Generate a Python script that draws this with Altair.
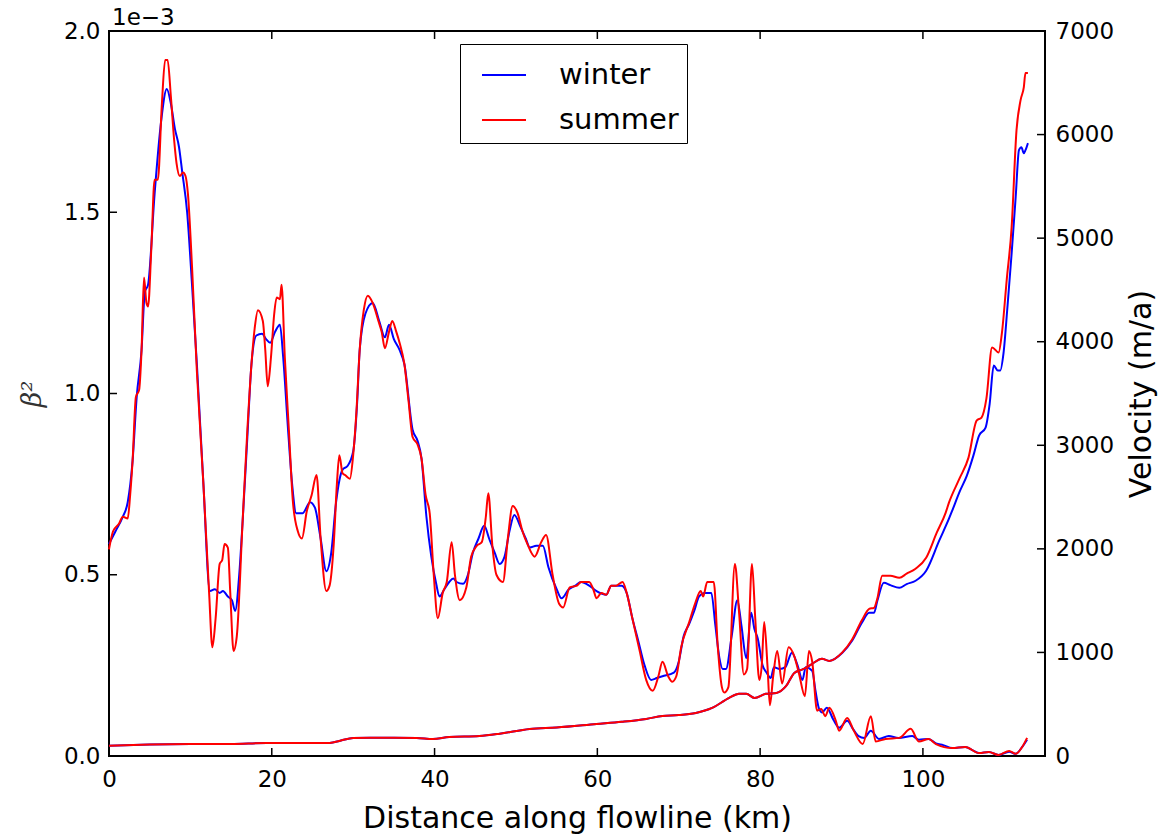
import altair as alt
import pandas as pd

# ---------------- data ----------------
# beta^2 values are given in units of 1e-3
beta_winter_km = [0, 0.8, 1.7, 2.3, 2.9, 3.4, 4.0, 4.4, 4.8, 5.6, 6.4, 7.1, 7.6, 8.1, 8.6, 9.0, 9.6, 10.2, 10.8,
                  11.6, 12.4, 13.0, 13.6, 14.0, 14.6, 15.1, 15.5, 16.0, 16.4, 17.0, 17.5, 18.1, 18.8, 19.3, 19.8,
                  20.4, 21.0, 21.4, 22.0, 22.5, 23.0, 23.8, 24.7, 25.3, 26.0, 26.7, 27.3, 27.9, 28.7, 29.3, 30.0,
                  30.5, 30.8, 31.5, 32.4, 33.2, 33.9, 34.4, 35.0, 35.7, 36.3, 37.3, 37.9, 38.4, 39.0, 39.6, 40.2,
                  40.6, 41.2, 41.8, 42.3, 42.7, 43.5, 44.1, 44.7, 45.4, 46.1, 46.7, 47.4, 48.0, 48.6, 49.2, 49.8,
                  50.6, 51.2, 51.7, 52.5, 53.3, 54.0, 55.0, 55.6, 56.5, 57.3, 58.0, 59.0, 59.9, 61.1, 61.7, 63.0,
                  63.6, 64.3, 65.0, 65.8, 66.6, 67.3, 68.0, 69.4, 70.0, 70.6, 71.3, 71.9, 72.5, 73.2, 74.0, 74.5,
                  75.0, 75.4, 75.8, 76.5, 77.2, 77.7, 78.3, 78.9, 79.3, 79.7, 80.3, 80.8, 81.3, 81.7, 82.4, 83.1,
                  83.9, 84.6, 85.2, 85.6, 86.4, 86.8, 87.2, 87.6, 88.2, 89.0, 89.7, 90.7, 91.4, 92.1, 92.8, 93.6,
                  94.6, 95.8, 97.0, 98.7, 99.5, 100.7, 101.6, 102.5, 103.6, 105.2, 106.2, 106.9, 108.1, 109.3,
                  110.6, 111.4, 112.2, 112.8]
beta_winter = [0.585, 0.62, 0.66, 0.70, 0.815, 0.99, 1.12, 1.28, 1.30, 1.55, 1.75, 1.84, 1.80, 1.73, 1.68, 1.61,
               1.50, 1.30, 1.08, 0.75, 0.455, 0.46, 0.45, 0.455, 0.44, 0.43, 0.40, 0.50, 0.64, 0.88, 1.08, 1.16,
               1.165, 1.15, 1.14, 1.17, 1.19, 1.10, 0.90, 0.75, 0.67, 0.67, 0.70, 0.685, 0.60, 0.51, 0.56, 0.70,
               0.79, 0.80, 0.84, 0.98, 1.12, 1.22, 1.25, 1.20, 1.155, 1.19, 1.15, 1.12, 1.08, 0.90, 0.87, 0.82,
               0.66, 0.55, 0.475, 0.44, 0.46, 0.48, 0.49, 0.48, 0.475, 0.50, 0.56, 0.60, 0.635, 0.60, 0.56, 0.53,
               0.55, 0.62, 0.665, 0.63, 0.60, 0.575, 0.58, 0.58, 0.52, 0.46, 0.435, 0.46, 0.47, 0.48, 0.47, 0.455,
               0.445, 0.47, 0.47, 0.45, 0.38, 0.32, 0.25, 0.21, 0.215, 0.22, 0.23, 0.26, 0.33, 0.365, 0.40, 0.44,
               0.45, 0.45, 0.36, 0.27, 0.24, 0.24, 0.33, 0.43, 0.36, 0.27, 0.395, 0.35, 0.325, 0.25, 0.23, 0.215,
               0.245, 0.24, 0.245, 0.285, 0.25, 0.21, 0.245, 0.235, 0.18, 0.133, 0.12, 0.133, 0.10, 0.078, 0.097,
               0.075, 0.055, 0.05, 0.07, 0.047, 0.055, 0.05, 0.055, 0.045, 0.047, 0.035, 0.03, 0.022, 0.025,
               0.015, 0.008, 0.011, 0.003, 0.012, 0.006, 0.025, 0.045]

beta_summer_km = [0, 0.5, 1.2, 1.7, 2.3, 2.6, 2.9, 3.3, 3.7, 4.0, 4.3, 4.6, 4.8, 5.2, 5.6, 6.0, 6.5, 6.9, 7.2, 7.6,
                  8.0, 8.3, 8.7, 9.1, 9.4, 9.7, 10.2, 10.8, 11.6, 12.3, 12.7, 13.1, 13.6, 13.9, 14.2, 14.6, 14.9,
                  15.3, 15.7, 16.4, 17.0, 17.5, 17.9, 18.3, 18.9, 19.2, 19.5, 19.9, 20.3, 20.6, 21.0, 21.2, 21.6,
                  22.1, 22.6, 23.2, 23.7, 24.3, 24.9, 25.5, 26.0, 26.7, 27.1, 27.6, 28.0, 28.3, 28.7, 29.0, 29.6,
                  30.0, 30.4, 30.8, 31.3, 31.8, 32.4, 33.1, 33.5, 33.9, 34.4, 34.8, 35.3, 35.7, 36.3, 36.8, 37.3,
                  37.9, 38.4, 38.9, 39.4, 39.9, 40.4, 41.0, 41.5, 42.1, 42.5, 43.1, 43.9, 44.5, 45.2, 45.8, 46.3,
                  46.6, 47.1, 47.6, 48.4, 49.0, 49.6, 50.2, 50.8, 51.4, 52.3, 53.1, 53.7, 54.5, 55.3, 55.8, 56.6,
                  57.5, 58.0, 59.0, 59.5, 59.9, 60.5, 61.1, 61.7, 62.3, 63.1, 63.6, 64.3, 65.2, 66.0, 66.8, 67.5,
                  68.0, 68.7, 69.2, 69.7, 70.3, 71.3, 72.0, 72.7, 73.0, 73.5, 74.3, 74.8, 75.3, 75.6, 76.1, 76.9,
                  77.4, 78.0, 78.4, 79.0, 79.4, 79.9, 80.2, 80.5, 80.9, 81.2, 81.6, 82.1, 82.7, 83.5, 84.2, 84.8,
                  85.5, 86.0, 86.4, 87.0, 87.5, 88.0, 88.5, 89.3, 89.7, 90.7, 91.5, 92.6, 93.6, 94.2, 95.4, 97.1,
                  98.5, 99.5, 100.7, 101.6, 103.6, 105.2, 106.9, 108.1, 109.3, 110.6, 111.4, 112.2, 112.8]
beta_summer = [0.57, 0.62, 0.64, 0.66, 0.655, 0.72, 0.815, 0.99, 1.01, 1.12, 1.32, 1.25, 1.24, 1.40, 1.59, 1.59,
               1.80, 1.92, 1.92, 1.82, 1.70, 1.635, 1.60, 1.61, 1.60, 1.55, 1.35, 1.06, 0.75, 0.45, 0.30, 0.38,
               0.53, 0.54, 0.585, 0.575, 0.45, 0.29, 0.33, 0.64, 0.90, 1.08, 1.18, 1.23, 1.20, 1.12, 1.02, 1.10,
               1.22, 1.265, 1.26, 1.30, 1.10, 0.90, 0.70, 0.62, 0.60, 0.675, 0.72, 0.775, 0.60, 0.455, 0.47, 0.58,
               0.75, 0.83, 0.78, 0.775, 0.765, 0.83, 0.95, 1.12, 1.23, 1.27, 1.25, 1.20, 1.17, 1.125, 1.17, 1.20,
               1.17, 1.14, 1.08, 0.98, 0.88, 0.86, 0.82, 0.72, 0.67, 0.50, 0.38, 0.45, 0.48, 0.59, 0.50, 0.43,
               0.465, 0.55, 0.58, 0.59, 0.66, 0.725, 0.58, 0.50, 0.48, 0.60, 0.69, 0.67, 0.62, 0.585, 0.55, 0.59,
               0.61, 0.50, 0.42, 0.41, 0.465, 0.47, 0.48, 0.48, 0.46, 0.435, 0.45, 0.445, 0.47, 0.47, 0.48, 0.45,
               0.38, 0.29, 0.21, 0.18, 0.22, 0.26, 0.22, 0.205, 0.22, 0.30, 0.37, 0.42, 0.455, 0.44, 0.48, 0.48,
               0.30, 0.19, 0.175, 0.19, 0.53, 0.40, 0.225, 0.24, 0.53, 0.38, 0.21, 0.25, 0.37, 0.25, 0.14, 0.22,
               0.29, 0.20, 0.30, 0.275, 0.225, 0.165, 0.29, 0.26, 0.125, 0.13, 0.11, 0.133, 0.097, 0.07, 0.105,
               0.07, 0.033, 0.11, 0.04, 0.047, 0.05, 0.075, 0.04, 0.047, 0.033, 0.022, 0.025, 0.008, 0.011, 0.003,
               0.014, 0.006, 0.025, 0.05]

vel_winter_km = [0, 5, 10, 15, 19.4, 27.1, 28.5, 30, 35, 37.8, 39.8, 41.8, 45.5, 48, 51.7, 55, 59.9, 63, 66.0, 68,
                 70, 72.1, 74.1, 76.2, 77.4, 78.3, 79.3, 80.7, 82.0, 83.2, 84.2, 85.0, 85.6, 86.4, 87.6, 88.5, 90.1,
                 91.3, 92.5, 93.4, 94.0, 94.4, 95.2, 96.0, 97.1, 98.0, 99.1, 100.4, 102, 103.2, 103.6, 104.5, 105.4,
                 106.2, 106.9, 107.7, 108.2, 108.7, 109.2, 109.5, 109.9, 110.4, 110.9, 111.4, 111.8, 112.1, 112.4,
                 112.6, 112.9]
vel_winter = [100, 110, 115, 116, 126, 126, 150, 174, 176, 174, 164, 184, 193, 215, 261, 275, 309, 330, 358, 387,
              395, 416, 464, 561, 600, 600, 561, 600, 609, 677, 802, 830, 851, 890, 938, 918, 996, 1112, 1286, 1383,
              1383, 1499, 1673, 1650, 1624, 1660, 1692, 1789, 2079, 2291, 2369, 2550, 2707, 2900, 3094, 3171, 3400,
              3771, 3722, 3722, 3887, 4350, 4853, 5400, 5849, 5878, 5820, 5849, 5917]

vel_summer_km = [0, 5, 10, 15, 19.4, 27.1, 28.5, 30, 35, 37.8, 39.8, 41.8, 45.5, 48, 51.7, 55, 59.9, 63, 66.0, 68,
                 70, 72.1, 74.1, 76.2, 77.4, 78.3, 79.3, 80.7, 82.0, 83.2, 84.2, 85.0, 85.6, 86.4, 87.6, 88.5, 90.1,
                 91.3, 92.5, 93.4, 94.0, 94.4, 95.0, 96.0, 97.1, 98.0, 99.1, 100.4, 101.7, 102.8, 103.2, 104.5,
                 105.6, 106.6, 107.2, 107.8, 108.5, 109.3, 109.7, 110.3, 110.9, 111.5, 112.0, 112.4, 112.6, 112.9]
vel_summer = [100, 110, 115, 116, 126, 126, 150, 174, 176, 174, 164, 184, 193, 215, 261, 275, 309, 330, 358, 387,
              395, 416, 464, 561, 600, 600, 561, 600, 609, 677, 802, 830, 851, 890, 938, 918, 1000, 1125, 1310,
              1420, 1431, 1520, 1740, 1740, 1721, 1760, 1808, 1914, 2156, 2350, 2446, 2680, 2881, 3239, 3268, 3450,
              3945, 3896, 4080, 4600, 5105, 6043, 6333, 6459, 6594, 6594]

seasons = ["winter", "summer"]
season_colors = ["#0000ff", "#ff0000"]

x_ticks = [0, 20, 40, 60, 80, 100]
beta_ticks = [0, 0.0005, 0.001, 0.0015, 0.002]
vel_ticks = [0, 1000, 2000, 3000, 4000, 5000, 6000, 7000]

# ---------------- tables ----------------
beta_df = pd.concat([
    pd.DataFrame({"km": beta_winter_km, "beta": [v * 1e-3 for v in beta_winter], "season": "winter"}),
    pd.DataFrame({"km": beta_summer_km, "beta": [v * 1e-3 for v in beta_summer], "season": "summer"}),
], ignore_index=True)
vel_df = pd.concat([
    pd.DataFrame({"km": vel_winter_km, "vel": vel_winter, "season": "winter"}),
    pd.DataFrame({"km": vel_summer_km, "vel": vel_summer, "season": "summer"}),
], ignore_index=True)
xtick_df = pd.DataFrame({"km": x_ticks})
btick_df = pd.DataFrame({"beta": beta_ticks})
vtick_df = pd.DataFrame({"vel": vel_ticks})

W, H = 936, 725
TL = 8  # inward tick length
FONT = "DejaVu Sans"
LW = 2

x_scale = alt.Scale(domain=[0, 115], nice=False, zero=False)
b_scale = alt.Scale(domain=[0, 0.002], nice=False)
v_scale = alt.Scale(domain=[0, 7000], nice=False)

x_axis = alt.Axis(
    values=x_ticks, title="Distance along flowline (km)", format="d",
    labelFont=FONT, labelFontSize=23, labelColor="black", labelPadding=12,
    labelFlush=False, labelOverlap=False,
    titleFont=FONT, titleFontSize=30, titleFontWeight="normal", titleColor="black",
    titleY=71, titleBaseline="alphabetic",
    ticks=False, domain=False, grid=False,
)
b_axis = alt.Axis(
    orient="left", values=beta_ticks,
    labelExpr="format(datum.value * 1000, '.1f')",
    labelFont=FONT, labelFontSize=23, labelColor="black", labelPadding=9,
    labelFlush=False, labelOverlap=False,
    title="β²", titleFont="DejaVu Serif", titleFontStyle="italic",
    titleFontWeight="normal", titleFontSize=27, titleColor="#333333",
    titleAngle=270, titleX=-69, titleY=H / 2, titleAlign="center",
    titleBaseline="alphabetic",
    ticks=False, domain=False, grid=False,
)
v_axis = alt.Axis(
    orient="right", values=vel_ticks, format="d",
    labelFont=FONT, labelFontSize=23, labelColor="black", labelPadding=10,
    labelFlush=False, labelOverlap=False,
    title="Velocity (m/a)", titleFont=FONT, titleFontSize=30,
    titleFontWeight="normal", titleColor="black",
    titleAngle=270, titleX=105, titleY=H / 2, titleAlign="center",
    titleBaseline="alphabetic",
    ticks=False, domain=False, grid=False,
)

color = alt.Color(
    "season:N",
    scale=alt.Scale(domain=seasons, range=season_colors),
    legend=alt.Legend(
        orient="none", legendX=351, legendY=13, title=None,
        labelFontSize=29, labelFont=FONT, labelColor="black",
        symbolType="stroke", symbolSize=1936, symbolStrokeWidth=2,
        strokeColor="black", fillColor="white", padding=8, rowPadding=7,
        labelOffset=32, symbolOffset=13, cornerRadius=0,
    ),
)

beta_chart = alt.Chart(beta_df).mark_line(strokeWidth=LW, interpolate="monotone").encode(
    x=alt.X("km:Q", scale=x_scale, axis=x_axis),
    y=alt.Y("beta:Q", scale=b_scale, axis=b_axis),
    color=color,
)

# inward ticks (matplotlib classic style)
x_ticks_top = alt.Chart(xtick_df).mark_rule(color="black", strokeWidth=1.5).encode(
    x=alt.X("km:Q", scale=x_scale, axis=x_axis), y=alt.value(0), y2=alt.value(TL))
x_ticks_bottom = alt.Chart(xtick_df).mark_rule(color="black", strokeWidth=1.5).encode(
    x=alt.X("km:Q", scale=x_scale, axis=x_axis), y=alt.value(H - TL), y2=alt.value(H))
b_ticks_left = alt.Chart(btick_df).mark_rule(color="black", strokeWidth=1.5).encode(
    y=alt.Y("beta:Q", scale=b_scale, axis=b_axis), x=alt.value(0), x2=alt.value(TL))

left = alt.layer(beta_chart, x_ticks_top, x_ticks_bottom, b_ticks_left)

vel_chart = alt.Chart(vel_df).mark_line(strokeWidth=LW, interpolate="monotone").encode(
    x=alt.X("km:Q", scale=x_scale, axis=x_axis),
    y=alt.Y("vel:Q", scale=v_scale, axis=v_axis),
    color=color,
)
v_ticks_right = alt.Chart(vtick_df).mark_rule(color="black", strokeWidth=1.5).encode(
    y=alt.Y("vel:Q", scale=v_scale, axis=v_axis), x=alt.value(W - TL), x2=alt.value(W))

right = alt.layer(vel_chart, v_ticks_right)

offset_text = alt.Chart(pd.DataFrame({"t": [0]})).mark_text(
    text="1e\u22123", align="left", baseline="alphabetic", fontSize=23, font=FONT, color="black"
).encode(x=alt.value(3), y=alt.value(-6))

chart = alt.layer(left, right, offset_text).resolve_scale(y="independent").properties(
    width=W, height=H,
    autosize=alt.AutoSizeParams(type="none"),
    padding={"left": 109, "top": 31, "right": 119, "bottom": 81},
    background="white",
).configure_view(stroke="black", strokeWidth=2)

chart.save("out.html", embed_options={"renderer": "svg", "actions": False})
